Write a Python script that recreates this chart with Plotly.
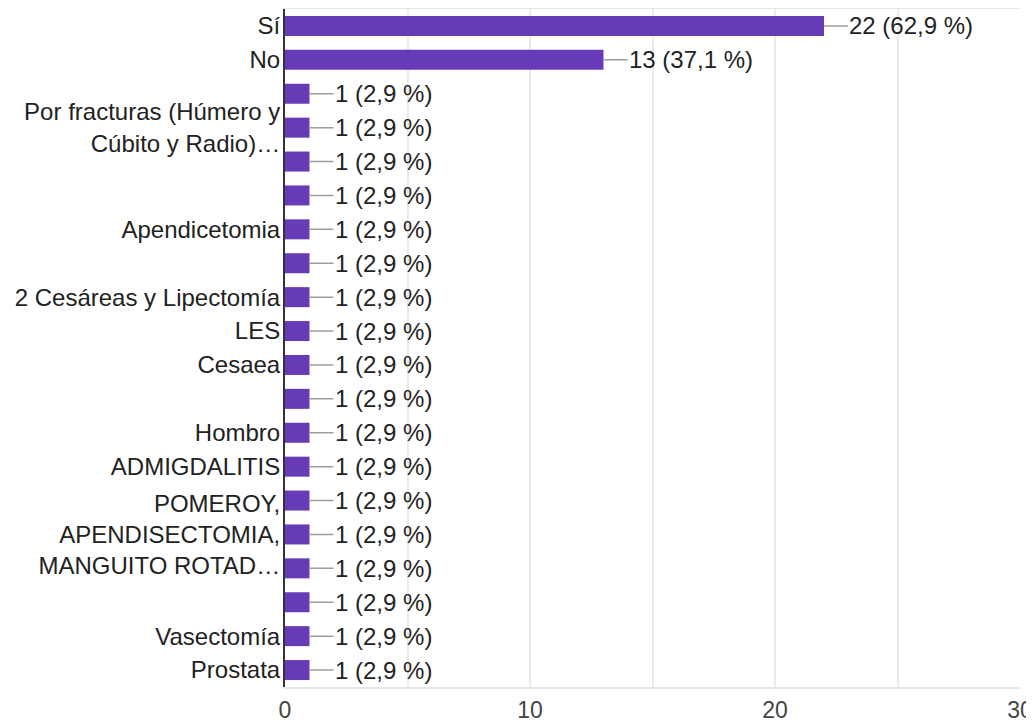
import plotly.graph_objects as go

# ---- data ----
categories = [
    "Sí",
    "No",
    "",
    "Por fracturas (Húmero y<br>Cúbito y Radio)…",
    "",
    "",
    "Apendicetomia",
    "",
    "2 Cesáreas y Lipectomía",
    "LES",
    "Cesaea",
    "",
    "Hombro",
    "ADMIGDALITIS",
    "",
    "POMEROY,<br>APENDISECTOMIA,<br>MANGUITO ROTAD…",
    "",
    "",
    "Vasectomía",
    "Prostata",
]
counts = [22, 13, 1, 1, 1, 1, 1, 1, 1, 1, 1, 1, 1, 1, 1, 1, 1, 1, 1, 1]
percents = [62.9, 37.1, 2.9, 2.9, 2.9, 2.9, 2.9, 2.9, 2.9, 2.9,
            2.9, 2.9, 2.9, 2.9, 2.9, 2.9, 2.9, 2.9, 2.9, 2.9]
x_tickvals = [0, 5, 10, 15, 20, 25, 30]
x_ticktext = ["0", "", "10", "", "20", "", "30"]

FONT = "Arial, 'Liberation Sans', sans-serif"
BAR = "#673ab7"
FS = 24
rows = list(range(len(categories)))

fig = go.Figure()
fig.add_trace(go.Bar(
    x=counts,
    y=rows,
    orientation="h",
    marker=dict(color=BAR, line=dict(width=0)),
    width=0.59,
    hoverinfo="skip",
))

for r, c, p in zip(rows, counts, percents):
    label = f"{c} ({p:.1f} %)".replace(".", ",")
    fig.add_annotation(
        x=c, y=r, xref="x", yref="y",
        text=label,
        showarrow=True, arrowhead=0, arrowwidth=1.5, arrowcolor="#9e9e9e",
        ax=24, ay=0, xanchor="left", yanchor="middle",
        standoff=0, startstandoff=0, borderpad=0,
        font=dict(family=FONT, size=FS, color="#222222"),
    )

# page body has an 8px margin, so the figure is sized to end at the window edge
fig.update_layout(
    width=1026, height=718,
    margin=dict(l=277, r=14, t=1, b=39, autoexpand=False),
    paper_bgcolor="white", plot_bgcolor="white",
    showlegend=False,
    font=dict(family=FONT, size=FS, color="#222222"),
)
fig.update_xaxes(
    range=[0, 30],
    tickvals=x_tickvals, ticktext=x_ticktext,
    showgrid=True, gridcolor="#ebebeb", gridwidth=1.5,
    zeroline=False,
    showline=True, linecolor="#e6e6e6", linewidth=1.5, mirror=True,
    ticks="",
    tickfont=dict(family=FONT, size=23, color="#444444"),
    ticklabelstandoff=2,
    automargin=False,
)
fig.update_yaxes(
    range=[len(categories) - 0.5, -0.5],
    tickvals=rows, ticktext=categories,
    showgrid=False, zeroline=False,
    showline=True, linecolor="#333333", linewidth=2,
    ticks="",
    tickfont=dict(family=FONT, size=FS, color="#222222"),
    ticklabelstandoff=-2,
    automargin=False,
)

fig.write_html("out.html")
